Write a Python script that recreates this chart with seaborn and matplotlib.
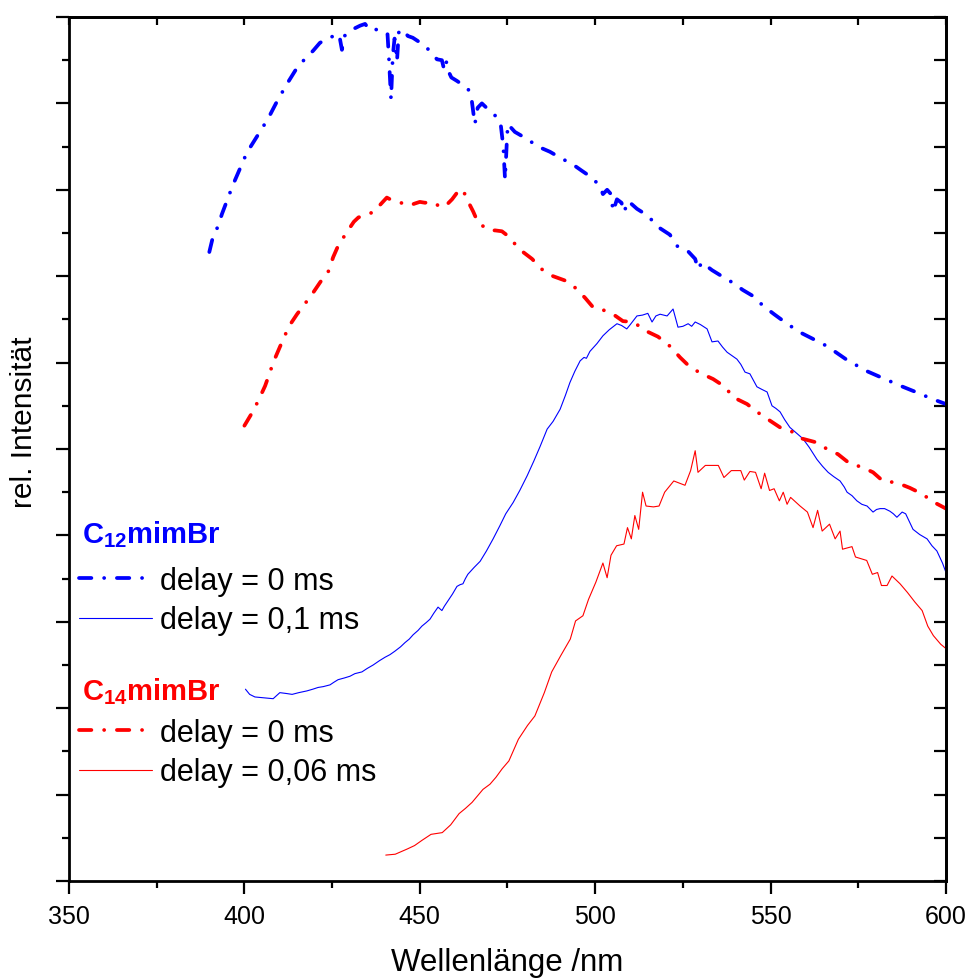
import matplotlib
matplotlib.use("Agg")
import matplotlib.pyplot as plt
import seaborn as sns
import numpy as np
import pandas as pd
from matplotlib.ticker import MultipleLocator, NullFormatter

# ---------------- data ----------------
c12_0_x = [390.0, 391.0, 392.5, 393.6, 395.0, 396.2, 397.3, 400.7, 404.4, 406.7, 409.0, 411.9, 414.5,
           416.7, 419.6, 421.5, 423.5, 425.5, 427.0, 427.8, 428.5, 431.0, 433.0, 434.4, 435.5, 436.4,
           438.0, 439.5, 440.8, 441.3, 441.8, 442.3, 442.8, 443.5, 444.0, 445.0, 446.6, 448.0, 449.5,
           451.0, 452.3, 454.0, 454.9, 456.3, 457.0, 457.6, 458.3, 459.0, 460.6, 462.0, 463.7, 464.6,
           465.4, 465.7, 466.5, 467.7, 469.5, 472.0, 473.0, 473.8, 474.3, 474.8, 475.1, 477.1, 480.5,
           483.7, 487.1, 490.5, 493.4, 496.2, 499.1, 501.4, 502.2, 503.4, 504.5, 505.1, 506.2, 507.5,
           508.2, 509.4, 511.9, 515.0, 517.9, 521.3, 523.3, 526.2, 528.5, 529.3, 530.4, 533.3, 536.1,
           539.0, 542.1, 545.0, 547.8, 551.0, 554.7, 558.4, 561.8, 566.1, 571.8, 577.5, 582.0, 587.7,
           592.6, 596.0, 600.0]
c12_0_y = [7.28, 7.45, 7.58, 7.72, 7.87, 8.00, 8.11, 8.43, 8.67, 8.82, 9.00, 9.21, 9.38,
           9.49, 9.61, 9.70, 9.75, 9.78, 9.80, 9.62, 9.78, 9.86, 9.90, 9.92, 9.86, 9.84,
           9.86, 9.84, 9.80, 9.45, 9.05, 9.55, 9.75, 9.49, 9.82, 9.86, 9.78, 9.76, 9.72,
           9.68, 9.63, 9.55, 9.51, 9.50, 9.38, 9.48, 9.36, 9.30, 9.26, 9.22, 9.17, 9.10,
           8.85, 8.76, 8.95, 9.00, 8.93, 8.84, 8.78, 8.50, 8.12, 8.55, 8.76, 8.67, 8.59,
           8.50, 8.44, 8.36, 8.30, 8.22, 8.14, 8.04, 7.95, 8.00, 7.95, 7.75, 7.89, 7.85,
           7.74, 7.87, 7.78, 7.70, 7.57, 7.48, 7.35, 7.30, 7.20, 7.08, 7.16, 7.07, 7.00,
           6.93, 6.84, 6.77, 6.66, 6.56, 6.45, 6.35, 6.28, 6.19, 6.03, 5.90, 5.82, 5.72,
           5.64, 5.58, 5.52]

c12_01_x = [400.3, 401.5, 403.0, 405.5, 408.2, 409.0, 410.1, 412.0, 413.6, 415.5, 417.8, 419.5, 421.0,
            422.5, 424.4, 425.5, 426.7, 428.5, 430.1, 431.5, 433.5, 435.0, 436.7, 438.5, 440.1, 441.5,
            442.9, 444.5, 445.8, 447.0, 448.1, 449.5, 450.6, 451.8, 452.9, 454.0, 455.2, 456.3, 457.0,
            458.0, 459.3, 460.6, 461.5, 462.3, 463.0, 463.7, 465.5, 467.2, 469.0, 470.9, 472.8, 474.5,
            476.6, 478.5, 480.6, 482.5, 484.3, 486.3, 488.0, 490.0, 491.5, 492.8, 494.2, 495.7, 496.8,
            497.5, 498.5, 500.5, 502.2, 504.0, 506.2, 507.5, 509.0, 510.0, 511.9, 513.5, 515.0, 516.2,
            517.3, 518.5, 520.5, 522.2, 523.6, 525.0, 526.5, 527.5, 528.5, 530.0, 531.9, 533.3, 535.0,
            536.3, 537.6, 539.0, 540.4, 541.5, 542.7, 544.1, 546.1, 547.5, 549.0, 550.4, 551.5, 552.7,
            554.0, 555.5, 557.5, 559.2, 561.0, 563.2, 564.8, 566.4, 568.0, 569.8, 571.0, 571.8, 573.2,
            574.6, 576.0, 577.5, 579.2, 580.2, 581.2, 582.5, 584.0, 585.0, 586.0, 587.5, 588.5, 590.6,
            592.5, 594.6, 596.0, 597.4, 599.0, 600.0]
c12_01_y = [2.22, 2.16, 2.13, 2.12, 2.11, 2.14, 2.18, 2.17, 2.16, 2.18, 2.20, 2.22, 2.24,
            2.25, 2.27, 2.30, 2.33, 2.35, 2.37, 2.40, 2.42, 2.46, 2.50, 2.55, 2.59, 2.62,
            2.66, 2.71, 2.76, 2.80, 2.85, 2.90, 2.95, 2.99, 3.03, 3.10, 3.17, 3.13, 3.18,
            3.24, 3.32, 3.41, 3.43, 3.44, 3.50, 3.55, 3.63, 3.70, 3.82, 3.96, 4.11, 4.25,
            4.38, 4.52, 4.69, 4.86, 5.03, 5.23, 5.32, 5.46, 5.62, 5.77, 5.90, 6.02, 6.06,
            6.05, 6.13, 6.22, 6.31, 6.38, 6.45, 6.43, 6.39, 6.44, 6.54, 6.55, 6.57, 6.47,
            6.54, 6.56, 6.54, 6.62, 6.41, 6.42, 6.45, 6.42, 6.47, 6.44, 6.39, 6.24, 6.25,
            6.18, 6.12, 6.08, 6.04, 5.98, 5.89, 5.87, 5.72, 5.69, 5.66, 5.50, 5.47, 5.43,
            5.34, 5.25, 5.18, 5.12, 5.02, 4.88, 4.80, 4.73, 4.68, 4.63, 4.56, 4.50, 4.46,
            4.40, 4.36, 4.34, 4.27, 4.30, 4.31, 4.31, 4.28, 4.25, 4.21, 4.27, 4.25, 4.07,
            4.01, 3.96, 3.88, 3.82, 3.68, 3.57]

c14_0_x = [400.0, 402.5, 404.2, 405.9, 407.3, 408.2, 410.1, 412.7, 415.0, 417.6, 419.6, 421.6, 424.0,
           425.3, 426.7, 429.2, 431.2, 432.5, 434.4, 436.7, 438.1, 440.6, 442.0, 443.5, 444.4, 446.0,
           447.2, 448.5, 450.0, 451.5, 452.9, 454.5, 455.8, 457.5, 459.2, 460.5, 461.5, 462.5, 463.7,
           465.2, 466.6, 468.0, 470.0, 471.5, 473.4, 475.0, 476.5, 479.1, 482.0, 484.8, 488.0, 491.4,
           494.2, 497.1, 499.4, 502.2, 505.1, 507.9, 510.8, 514.8, 517.9, 521.3, 524.2, 527.0, 530.4,
           533.6, 537.0, 539.3, 543.3, 546.1, 549.0, 552.7, 556.1, 559.0, 562.7, 566.1, 569.2, 572.6,
           576.1, 579.2, 582.0, 586.0, 589.7, 593.2, 596.3, 600.0]
c14_0_y = [5.27, 5.44, 5.58, 5.73, 5.89, 6.00, 6.18, 6.42, 6.56, 6.70, 6.81, 6.93, 7.06,
           7.22, 7.35, 7.51, 7.63, 7.68, 7.71, 7.74, 7.80, 7.91, 7.88, 7.86, 7.85, 7.84,
           7.82, 7.84, 7.86, 7.85, 7.86, 7.84, 7.80, 7.82, 7.89, 7.96, 8.01, 7.98, 7.87,
           7.75, 7.62, 7.58, 7.53, 7.53, 7.52, 7.47, 7.40, 7.29, 7.20, 7.08, 7.00, 6.95,
           6.87, 6.75, 6.64, 6.61, 6.56, 6.48, 6.47, 6.36, 6.30, 6.19, 6.06, 5.95, 5.87,
           5.81, 5.72, 5.60, 5.52, 5.43, 5.35, 5.25, 5.20, 5.12, 5.08, 5.00, 4.94, 4.83,
           4.79, 4.73, 4.63, 4.61, 4.55, 4.48, 4.39, 4.31]

c14_006_x = [440.3, 443.0, 446.4, 448.5, 450.6, 453.2, 456.4, 458.8, 461.2, 463.0, 464.9, 468.0, 470.0,
             471.7, 473.5, 475.4, 478.1, 480.7, 482.8, 485.5, 487.6, 490.2, 492.9, 494.4, 496.5, 498.1,
             500.2, 502.2, 503.4, 504.5, 506.1, 508.2, 509.2, 510.3, 511.3, 512.4, 513.5, 514.5, 516.6,
             518.2, 519.8, 522.4, 525.6, 527.2, 528.5, 529.3, 531.4, 533.0, 535.1, 536.7, 538.8, 541.5,
             542.5, 544.1, 545.7, 547.3, 548.3, 549.7, 551.0, 552.5, 553.6, 554.7, 555.7, 558.4, 560.5,
             562.1, 563.4, 564.7, 566.8, 568.4, 569.8, 570.5, 573.2, 574.2, 577.4, 579.0, 580.5, 581.6,
             583.2, 584.6, 586.9, 589.0, 591.1, 593.2, 594.8, 596.4, 598.5, 600.0]
c14_006_y = [0.30, 0.31, 0.37, 0.41, 0.47, 0.54, 0.56, 0.65, 0.78, 0.84, 0.91, 1.06, 1.12,
             1.20, 1.30, 1.39, 1.64, 1.80, 1.91, 2.18, 2.42, 2.61, 2.80, 3.01, 3.07, 3.26,
             3.46, 3.68, 3.51, 3.77, 3.88, 3.90, 4.09, 3.96, 4.23, 4.07, 4.50, 4.34, 4.33,
             4.34, 4.50, 4.63, 4.58, 4.75, 4.98, 4.73, 4.81, 4.81, 4.81, 4.67, 4.75, 4.75,
             4.64, 4.74, 4.73, 4.54, 4.72, 4.52, 4.54, 4.40, 4.50, 4.36, 4.44, 4.34, 4.27,
             4.09, 4.29, 4.05, 4.13, 3.96, 4.05, 3.84, 3.87, 3.75, 3.71, 3.55, 3.57, 3.42,
             3.42, 3.53, 3.44, 3.34, 3.23, 3.13, 2.95, 2.84, 2.74, 2.69]

x_ticks = [350, 400, 450, 500, 550, 600]
x_label = "Wellenlänge /nm"
y_label = "rel. Intensität"
group_titles = [r"$\mathbf{C_{12}mimBr}$", r"$\mathbf{C_{14}mimBr}$"]
series_labels = ["delay = 0 ms", "delay = 0,1 ms", "delay = 0 ms", "delay = 0,06 ms"]

BLUE = "#0000ff"
RED = "#ff0000"

# ---------------- styling ----------------
sns.set_theme(style="ticks")
plt.rcParams["font.family"] = ["Liberation Sans", "DejaVu Sans"]
plt.rcParams["mathtext.fontset"] = "custom"
plt.rcParams["mathtext.rm"] = "Liberation Sans"
plt.rcParams["mathtext.bf"] = "Liberation Sans:bold"
plt.rcParams["axes.edgecolor"] = "black"
plt.rcParams["xtick.color"] = "black"
plt.rcParams["ytick.color"] = "black"
plt.rcParams["text.color"] = "black"
plt.rcParams["axes.labelcolor"] = "black"

fig = plt.figure(figsize=(9.7, 9.79), dpi=100)
ax = fig.add_axes([69 / 970, 1 - 882 / 979, 877 / 970, 864 / 979])

dashdot = (0, (3.3, 3.4, 0.01, 3.4))

def draw(xs, ys, color, lw, ls, label):
    df = pd.DataFrame({"x": xs, "y": ys})
    sns.lineplot(data=df, x="x", y="y", ax=ax, color=color, linewidth=lw,
                 linestyle=ls, estimator=None, sort=False, label=label,
                 dash_capstyle="round", solid_capstyle="round", legend=False)
    return ax.get_lines()[-1]

l1 = draw(c12_0_x, c12_0_y, BLUE, 2.7, dashdot, series_labels[0])
l2 = draw(c12_01_x, c12_01_y, BLUE, 0.8, "-", series_labels[1])
l3 = draw(c14_0_x, c14_0_y, RED, 2.7, dashdot, series_labels[2])
l4 = draw(c14_006_x, c14_006_y, RED, 0.8, "-", series_labels[3])

ax.set_xlim(350, 600)
ax.set_ylim(0, 10)
ax.xaxis.set_major_locator(plt.FixedLocator(x_ticks))
ax.xaxis.set_minor_locator(MultipleLocator(25))
ax.yaxis.set_major_locator(MultipleLocator(1))
ax.yaxis.set_minor_locator(MultipleLocator(0.5))
ax.yaxis.set_major_formatter(NullFormatter())
ax.tick_params(axis="x", which="major", direction="out", length=9.5, width=1.6,
               labelsize=18, pad=7, top=False)
ax.tick_params(axis="x", which="minor", direction="out", length=5, width=1.6, top=False)
ax.tick_params(axis="y", which="major", direction="out", length=9.5, width=1.6, right=False)
ax.tick_params(axis="y", which="minor", direction="out", length=5, width=1.6, right=False)
for s in ax.spines.values():
    s.set_linewidth(2.0)
    s.set_visible(True)
    s.set_color("black")

secx = ax.secondary_xaxis("top")
secx.xaxis.set_major_locator(MultipleLocator(25))
secx.tick_params(direction="in", length=6, width=1.6, labeltop=False)
secx.spines["top"].set_linewidth(2.0)
secy = ax.secondary_yaxis("right")
secy.yaxis.set_major_locator(MultipleLocator(0.5))
secy.tick_params(direction="in", length=8.5, width=1.6, labelright=False)
secy.spines["right"].set_linewidth(2.0)

ax.set_xlabel(x_label, fontsize=22.5)
ax.set_ylabel(y_label, fontsize=21.5)
ax.xaxis.set_label_coords(0.5, -0.076)
ax.yaxis.set_label_coords(-0.035, 0.532)

# group titles
ax.text(0.0148, 0.3924, group_titles[0], color=BLUE, fontsize=21,
        transform=ax.transAxes, ha="left", va="baseline")
ax.text(0.0148, 0.2106, group_titles[1], color=RED, fontsize=21,
        transform=ax.transAxes, ha="left", va="baseline")

leg_kw = dict(loc="upper left", frameon=False, fontsize=22, handlelength=2.4,
              handletextpad=0.27, borderpad=0, borderaxespad=0, labelspacing=0.31)
leg1 = ax.legend(handles=[l1, l2], labels=series_labels[:2],
                 bbox_to_anchor=(0.011, 0.3646), **leg_kw)
ax.add_artist(leg1)
leg2 = ax.legend(handles=[l3, l4], labels=series_labels[2:],
                 bbox_to_anchor=(0.011, 0.1887), **leg_kw)

fig.savefig("out.png", dpi=100)
